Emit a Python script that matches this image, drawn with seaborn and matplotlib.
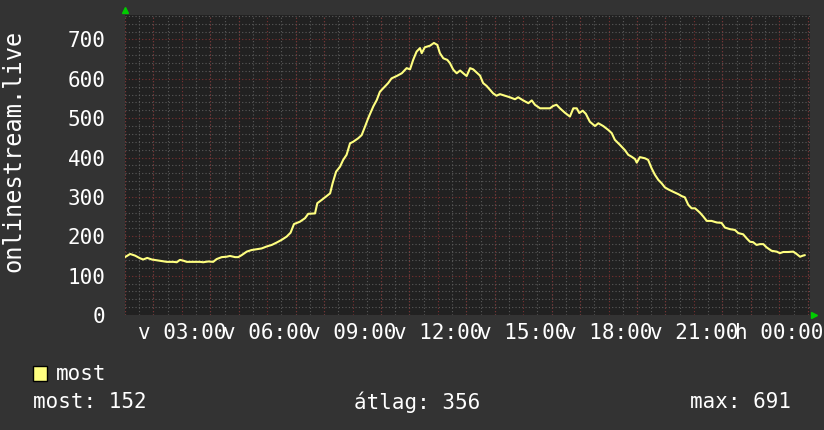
import matplotlib
matplotlib.use("Agg")
import matplotlib.pyplot as plt
from matplotlib.patches import Rectangle
from matplotlib.ticker import MultipleLocator
import pandas as pd
import seaborn as sns

# Idő (óra, 01:00-tól) és a "most" értékek
hours = [1.00, 1.18, 1.35, 1.53, 1.64, 1.78, 1.94, 2.11, 2.29, 2.47, 2.70, 2.82, 2.93,
         3.05, 3.17, 3.40, 3.64, 3.75, 3.93, 4.10, 4.22, 4.40, 4.57, 4.69, 4.87, 4.98,
         5.10, 5.28, 5.45, 5.63, 5.80, 5.98, 6.16, 6.33, 6.51, 6.68, 6.82, 6.94, 7.15,
         7.33, 7.44, 7.68, 7.76, 7.91, 8.07, 8.21, 8.30, 8.42, 8.56, 8.67, 8.79, 8.91,
         9.02, 9.20, 9.32, 9.44, 9.55, 9.73, 9.85, 9.96, 10.08, 10.25, 10.37, 10.55,
         10.73, 10.90, 11.02, 11.13, 11.25, 11.37, 11.43, 11.54, 11.72, 11.86, 11.98,
         12.07, 12.19, 12.33, 12.42, 12.54, 12.66, 12.78, 12.89, 13.01, 13.13, 13.24,
         13.36, 13.48, 13.59, 13.71, 13.83, 13.94, 14.06, 14.18, 14.36, 14.53, 14.71,
         14.82, 15.00, 15.18, 15.30, 15.41, 15.59, 15.76, 15.94, 16.05, 16.17, 16.29,
         16.46, 16.64, 16.76, 16.88, 16.97, 17.09, 17.20, 17.34, 17.52, 17.64, 17.81,
         17.99, 18.11, 18.22, 18.40, 18.57, 18.69, 18.81, 18.93, 18.99, 19.10, 19.28,
         19.39, 19.51, 19.63, 19.75, 19.86, 19.98, 20.10, 20.27, 20.45, 20.57, 20.68,
         20.80, 20.92, 21.04, 21.10, 21.21, 21.33, 21.45, 21.62, 21.80, 21.97, 22.09,
         22.27, 22.44, 22.56, 22.73, 22.85, 22.97, 23.08, 23.20, 23.32, 23.44, 23.55,
         23.73, 23.91, 24.02, 24.14, 24.31, 24.49, 24.61, 24.73, 24.84, 24.90]
most = [147, 155, 151, 144, 141, 145, 141, 139, 137, 135, 135, 134, 140,
        138, 135, 135, 135, 134, 136, 135, 142, 147, 148, 150, 147, 147,
        152, 161, 165, 167, 169, 174, 178, 184, 191, 199, 209, 231, 237,
        246, 257, 258, 284, 292, 301, 309, 335, 364, 377, 394, 407, 436,
        440, 449, 457, 479, 500, 530, 546, 567, 576, 589, 601, 607,
        614, 627, 624, 648, 669, 678, 665, 680, 684, 691, 686,
        665, 652, 648, 640, 623, 614, 621, 614, 607, 627, 624,
        616, 608, 589, 582, 572, 563, 557, 561, 557, 553, 548,
        553, 545, 538, 545, 534, 525, 525, 525, 531, 534, 525,
        514, 504, 525, 525, 513, 519, 511, 491, 480, 487, 480,
        470, 462, 445, 432, 419, 407, 402, 396, 387, 401, 398,
        394, 373, 356, 343, 335, 324, 319, 313, 307, 302, 299,
        280, 271, 271, 267, 260, 250, 239, 239, 235, 234, 222,
        218, 216, 208, 205, 195, 186, 185, 178, 180, 180, 172,
        163, 161, 157, 160, 160, 161, 155, 148, 151, 152]

tick_hours = [3, 6, 9, 12, 15, 18, 21, 24]
tick_labels = ["v 03:00", "v 06:00", "v 09:00", "v 12:00", "v 15:00",
               "v 18:00", "v 21:00", "h 00:00"]
y_ticks = [0, 100, 200, 300, 400, 500, 600, 700]

stat_labels = ["most: 152", "átlag: 356", "max: 691"]

df = pd.DataFrame({"ora": hours, "most": most})

sns.set_style("dark")
plt.rcParams.update({
    "font.family": ["DejaVu Sans Mono", "DejaVu Sans"],
    "figure.facecolor": "#333333",
    "axes.facecolor": "#212121",
    "text.color": "#FFFFFF",
    "xtick.color": "#FFFFFF",
    "ytick.color": "#FFFFFF",
})

red = "#7a3030"
gray = "#5a5a5a"
dots = (0, (1, 2))

fig = plt.figure(figsize=(8.24, 4.30), dpi=100)
ax = fig.add_axes([125 / 824, 115 / 430, 685 / 824, 300 / 430])

sns.lineplot(data=df, x="ora", y="most", ax=ax, color="#FFFF80",
             linewidth=1.5, sort=False, zorder=3)

ax.set_xlim(1, 25.08)
ax.set_ylim(0, 762)

# rács: szürke mellék, piros fő vonalak (óránként / 100-anként)
ax.xaxis.set_minor_locator(MultipleLocator(0.5))
ax.yaxis.set_minor_locator(MultipleLocator(20))
ax.grid(which="minor", axis="both", color=gray, linestyle=dots, linewidth=0.8)
ax.grid(which="major", axis="y", color=red, linestyle=dots, linewidth=0.8)
ax.grid(which="major", axis="x", visible=False)
for h in range(1, 26):
    ax.axvline(h, color=red, linestyle=dots, linewidth=0.8, zorder=0.9)

ax.set_xticks(tick_hours)
ax.set_xticklabels(tick_labels, fontsize=15)
ax.set_yticks(y_ticks)
ax.set_yticklabels([str(v) for v in y_ticks], fontsize=15)
ax.tick_params(axis="x", which="major", length=3, pad=3, color=red)
ax.tick_params(axis="x", which="minor", length=3, color=gray)
ax.tick_params(axis="y", which="major", length=3, pad=11, color=red)
ax.tick_params(axis="y", which="minor", length=3, color=gray)
ax.set_xlabel("")
ax.set_ylabel("")
for s in ax.spines.values():
    s.set_visible(False)

# zöld nyilak a tengelyek végén
ax.plot([0], [1.018], marker="^", color="#00CC00", markersize=5,
        transform=ax.transAxes, clip_on=False)
ax.plot([1.006], [0], marker=">", color="#00CC00", markersize=5,
        transform=ax.transAxes, clip_on=False)

fig.text(13 / 824, 1 - 151 / 430, "onlinestream.live", rotation=90,
         fontsize=17, ha="center", va="center", color="#FFFFFF")

# jelmagyarázat
fig.add_artist(Rectangle((33 / 824, 1 - 381 / 430), 14 / 824, 15 / 430,
                         transform=fig.transFigure, facecolor="#FFFF80",
                         edgecolor="#000000", linewidth=1))
fig.text(56 / 824, 1 - 374 / 430, "most", fontsize=15, va="center")
fig.text(33 / 824, 1 - 402 / 430, stat_labels[0], fontsize=15, va="center")
fig.text(354 / 824, 1 - 402 / 430, stat_labels[1], fontsize=15, va="center")
fig.text(791 / 824, 1 - 402 / 430, stat_labels[2], fontsize=15, va="center", ha="right")

fig.savefig("out.png", dpi=100, facecolor=fig.get_facecolor())
